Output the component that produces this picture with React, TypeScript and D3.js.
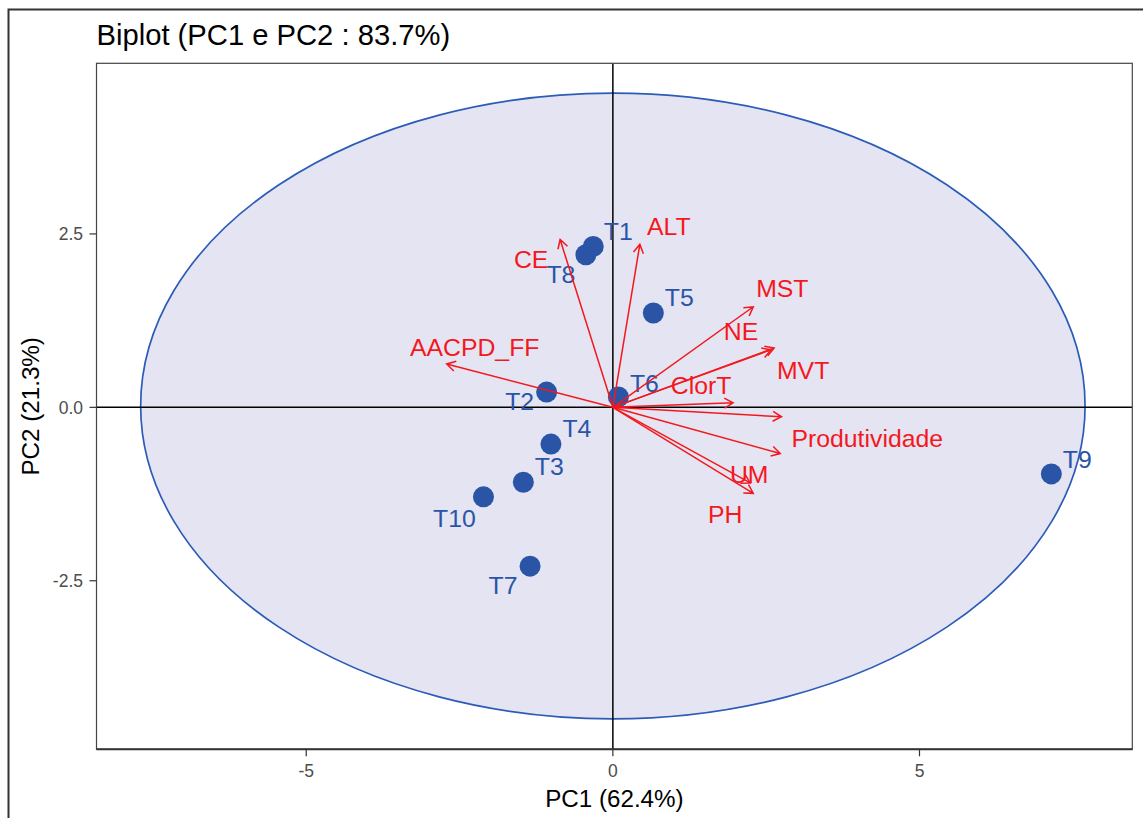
import React from "react";
import * as d3 from "d3";

// Individuals (scores on PC1 / PC2)
const individuals = ["T1", "T2", "T3", "T4", "T5", "T6", "T7", "T8", "T9", "T10"];
const indPC1 = [-0.32, -1.08, -1.46, -1.01, 0.66, 0.09, -1.35, -0.44, 7.15, -2.11];
const indPC2 = [2.32, 0.22, -1.08, -0.53, 1.36, 0.15, -2.29, 2.2, -0.96, -1.29];

// Variables (loadings scaled onto the score space)
const variables = ["ALT", "CE", "MST", "NE", "MVT", "ClorT", "", "Produtividade", "UM", "PH", "AACPD_FF"];
const varPC1 = [0.44, -0.86, 2.29, 2.58, 2.63, 1.96, 2.75, 2.73, 2.24, 2.29, -2.71];
const varPC2 = [2.35, 2.42, 1.45, 0.83, 0.855, 0.066, -0.136, -0.666, -1.09, -1.24, 0.625];

// Repelled label offsets in pixels (label centre relative to the mark)
const indLabelDx = [25, -27, 26, 26, 26, 26, -27, -25, 26, -29];
const indLabelDy = [-15, 9, -16, -16, -16, -14, 19, 19, -15, 21];
const varLabelDx = [29, -29, 29, -30, 29, -32, 0, 87, -1, -28, 28];
const varLabelDy = [-18, 20, -19, -19, 22, -18, 0, -15, -9, 21, -17];

const xTicks = [-5, 0, 5];
const xTickLabels = ["-5", "0", "5"];
const yTicks = [-2.5, 0, 2.5];
const yTickLabels = ["-2.5", "0.0", "2.5"];

// Concentration ellipse of the individuals
const ellipseCenter = [0, 0.02];
const ellipseRadii = [7.7, 4.51];

const W = 1143;
const H = 818;
const panel = { left: 96.5, right: 1132.3, top: 63.3, bottom: 749.3 };

const FONT = "'Liberation Sans', Arial, Helvetica, sans-serif";
const BLUE = "#2A55A7";
const RED = "#F4181E";

export default function App() {
  const x = d3.scaleLinear().domain([-8.42, 8.47]).range([panel.left, panel.right]);
  const y = d3.scaleLinear().domain([-4.93, 4.96]).range([panel.bottom, panel.top]);

  const ox = x(0);
  const oy = y(0);
  const headLen = 10;
  const headAng = Math.PI / 6;

  const arrowPath = (tx: number, ty: number) => {
    const a = Math.atan2(ty - oy, tx - ox);
    const b1x = tx + headLen * Math.cos(a + Math.PI - headAng);
    const b1y = ty + headLen * Math.sin(a + Math.PI - headAng);
    const b2x = tx + headLen * Math.cos(a + Math.PI + headAng);
    const b2y = ty + headLen * Math.sin(a + Math.PI + headAng);
    const p = d3.path();
    p.moveTo(ox, oy);
    p.lineTo(tx, ty);
    p.moveTo(b1x, b1y);
    p.lineTo(tx, ty);
    p.lineTo(b2x, b2y);
    return p.toString();
  };

  return (
    <div style={{ position: "fixed", left: 0, top: 0, width: W, height: H, background: "#fff" }}>
      <svg width={W} height={H} style={{ display: "block", fontFamily: FONT }}>
        <rect x={0} y={0} width={W} height={H} fill="#fff" />
        {/* outer frame */}
        <path d={`M8.5,${H} V9.5 H${W}`} fill="none" stroke="#333" strokeWidth={2} />

        {/* title */}
        <text x={panel.left} y={45} fontSize={29.2} fill="#000">
          Biplot (PC1 e PC2 : 83.7%)
        </text>

        <defs>
          <clipPath id="panel-clip">
            <rect
              x={panel.left}
              y={panel.top}
              width={panel.right - panel.left}
              height={panel.bottom - panel.top}
            />
          </clipPath>
        </defs>

        <g clipPath="url(#panel-clip)">
          <ellipse
            cx={x(ellipseCenter[0])}
            cy={y(ellipseCenter[1])}
            rx={x(ellipseRadii[0]) - x(0)}
            ry={y(0) - y(ellipseRadii[1])}
            fill="#E4E4F2"
            stroke="#2C5CB8"
            strokeWidth={1.7}
          />
          {/* origin lines */}
          <line x1={ox} x2={ox} y1={panel.top} y2={panel.bottom} stroke="#000" strokeWidth={1.5} />
          <line x1={panel.left} x2={panel.right} y1={oy} y2={oy} stroke="#000" strokeWidth={1.5} />

          {/* individuals */}
          {individuals.map((name, i) => (
            <circle key={`p-${name}`} cx={x(indPC1[i])} cy={y(indPC2[i])} r={10.5} fill={BLUE} />
          ))}
          {individuals.map((name, i) => (
            <text
              key={`pl-${name}`}
              x={x(indPC1[i]) + indLabelDx[i]}
              y={y(indPC2[i]) + indLabelDy[i]}
              dy="0.36em"
              textAnchor="middle"
              fontSize={24.8}
              fill={BLUE}
            >
              {name}
            </text>
          ))}

          {/* variables */}
          {variables.map((name, i) => (
            <path
              key={`a-${i}`}
              d={arrowPath(x(varPC1[i]), y(varPC2[i]))}
              fill="none"
              stroke={RED}
              strokeWidth={1.5}
            />
          ))}
          {variables.map((name, i) =>
            name ? (
              <text
                key={`al-${i}`}
                x={x(varPC1[i]) + varLabelDx[i]}
                y={y(varPC2[i]) + varLabelDy[i]}
                dy="0.36em"
                textAnchor="middle"
                fontSize={24.8}
                fill={RED}
              >
                {name}
              </text>
            ) : null
          )}
        </g>

        {/* panel border */}
        <rect
          x={panel.left}
          y={panel.top}
          width={panel.right - panel.left}
          height={panel.bottom - panel.top}
          fill="none"
          stroke="#444"
          strokeWidth={1.2}
        />
        <line x1={panel.left} x2={panel.right} y1={panel.bottom} y2={panel.bottom} stroke="#333" strokeWidth={2} />

        {/* x axis */}
        {xTicks.map((t, i) => (
          <g key={`xt-${t}`}>
            <line x1={x(t)} x2={x(t)} y1={panel.bottom} y2={panel.bottom + 7} stroke="#333" strokeWidth={1.2} />
            <text x={x(t)} y={777} textAnchor="middle" fontSize={17.5} fill="#4D4D4D">
              {xTickLabels[i]}
            </text>
          </g>
        ))}
        {/* y axis */}
        {yTicks.map((t, i) => (
          <g key={`yt-${t}`}>
            <line x1={panel.left - 7} x2={panel.left} y1={y(t)} y2={y(t)} stroke="#333" strokeWidth={1.2} />
            <text x={83} y={y(t)} dy="0.36em" textAnchor="end" fontSize={17.5} fill="#4D4D4D">
              {yTickLabels[i]}
            </text>
          </g>
        ))}

        {/* axis titles */}
        <text x={(panel.left + panel.right) / 2} y={807} textAnchor="middle" fontSize={24.2} fill="#000">
          PC1 (62.4%)
        </text>
        <text
          transform={`translate(39,${(panel.top + panel.bottom) / 2}) rotate(-90)`}
          textAnchor="middle"
          fontSize={24.2}
          fill="#000"
        >
          PC2 (21.3%)
        </text>
      </svg>
    </div>
  );
}
